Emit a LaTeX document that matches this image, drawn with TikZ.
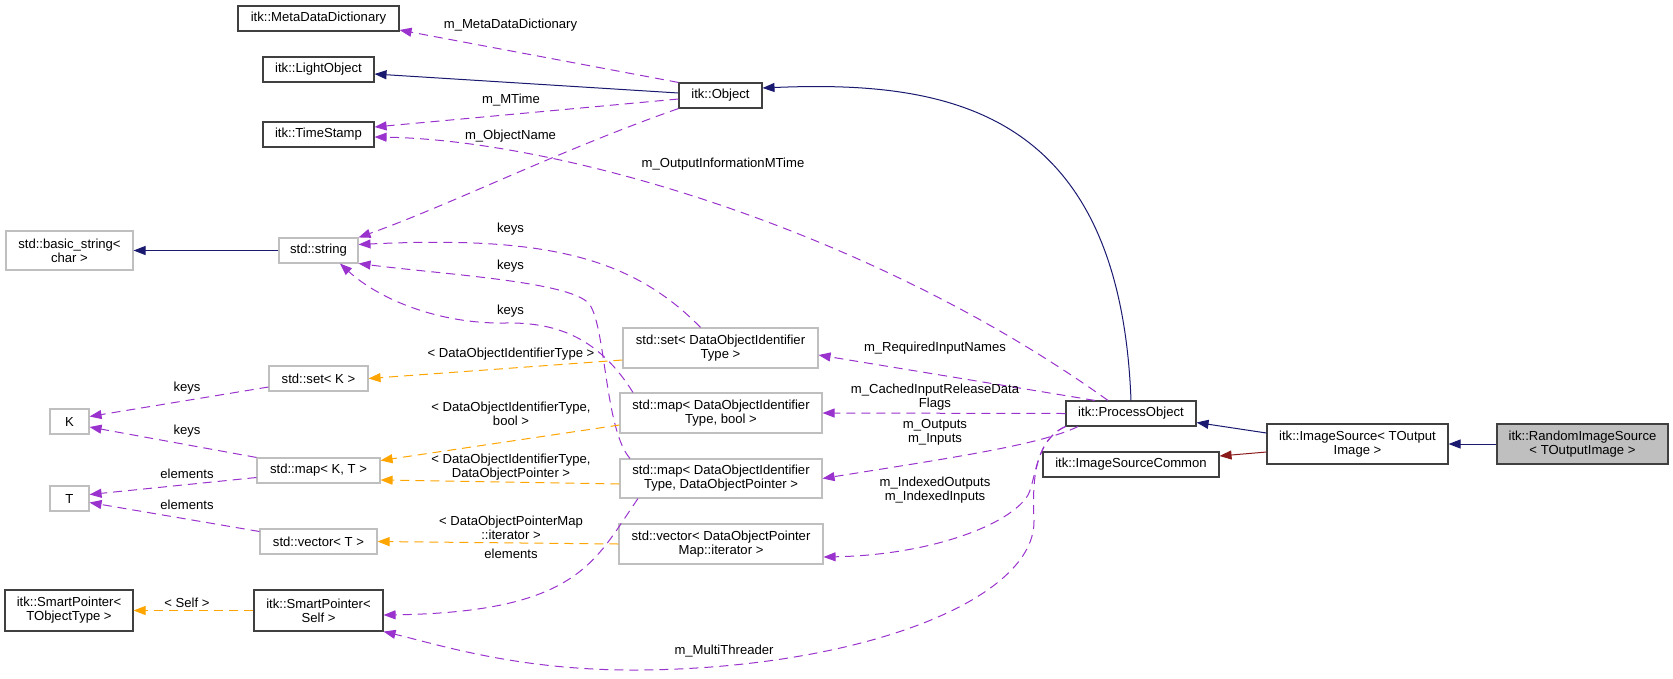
\documentclass[tikz,border=0pt]{standalone}
\usepackage{fontspec}
\setmainfont{Liberation Sans}
\usepackage{tikz}
\usetikzlibrary{arrows.meta}
\definecolor{edgeblue}{HTML}{191970}
\definecolor{edgepurple}{HTML}{9A32CD}
\definecolor{edgeorange}{HTML}{FFA500}
\definecolor{edgered}{HTML}{8B1A1A}
\definecolor{boxgray}{HTML}{BFBFBF}

\begin{document}
\begin{tikzpicture}[x=1pt, y=-1pt, >={Triangle[length=12pt,width=9pt]}, line width=1pt,
  cls/.style={draw=black!75, line width=1.1pt, fill=white, inner sep=0pt, align=center,
    font=\fontsize{13.1}{14}\selectfont},
  ext/.style={cls, draw=boxgray},
  lbl/.style={inner sep=0pt, align=center, font=\fontsize{13.1}{14}\selectfont},
  inhedge/.style={->, edgeblue},
  membedge/.style={->, edgepurple, dash pattern=on 9pt off 6pt},
  tmpledge/.style={->, edgeorange, dash pattern=on 9pt off 6pt}]
  \useasboundingbox (0,0) rectangle (1673,678);

  % Klassen
  \node[cls, minimum width=161pt, minimum height=25pt] (meta) at (318.5,18.5) {itk::MetaDataDictionary};
  \node[cls, minimum width=111pt, minimum height=25pt] (light) at (318.5,69.5) {itk::LightObject};
  \node[cls, minimum width=111pt, minimum height=25pt] (stamp) at (318.5,134.5) {itk::TimeStamp};
  \node[cls, minimum width=83pt, minimum height=25pt] (obj) at (720.5,95.5) {itk::Object};
  \node[ext, minimum width=127pt, minimum height=39pt] (bstr) at (69.5,250.5) {std::basic\_string<\\char >};
  \node[ext, minimum width=79pt, minimum height=25pt] (str) at (318.5,250.5) {std::string};
  \node[ext, minimum width=99pt, minimum height=25pt] (setK) at (318.5,378.5) {std::set< K >};
  \node[ext, minimum width=39pt, minimum height=25pt] (K) at (69.5,421.5) {K};
  \node[ext, minimum width=123pt, minimum height=25pt] (mapKT) at (318.5,470.5) {std::map< K, T >};
  \node[ext, minimum width=39pt, minimum height=25pt] (T) at (69.5,498.5) {T};
  \node[ext, minimum width=117pt, minimum height=25pt] (vecT) at (318.5,541.5) {std::vector< T >};
  \node[cls, minimum width=128pt, minimum height=41pt] (spT) at (69,610.5) {itk::SmartPointer<\\TObjectType >};
  \node[cls, minimum width=129pt, minimum height=41pt] (spS) at (318.5,610.5) {itk::SmartPointer<\\Self >};
  \node[ext, minimum width=195pt, minimum height=40pt] (setD) at (720.5,348) {std::set< DataObjectIdentifier\\Type >};
  \node[ext, minimum width=202pt, minimum height=40pt] (mapDB) at (721,413) {std::map< DataObjectIdentifier\\Type, bool >};
  \node[ext, minimum width=202pt, minimum height=39pt] (mapDP) at (721,478.5) {std::map< DataObjectIdentifier\\Type, DataObjectPointer >};
  \node[ext, minimum width=204pt, minimum height=40pt] (vecD) at (721,544) {std::vector< DataObjectPointer\\Map::iterator >};
  \node[cls, minimum width=130pt, minimum height=25pt] (proc) at (1131,413.5) {itk::ProcessObject};
  \node[cls, minimum width=176pt, minimum height=25pt] (isc) at (1131,464.5) {itk::ImageSourceCommon};
  \node[cls, minimum width=181pt, minimum height=40pt] (isrc) at (1357.5,444) {itk::ImageSource< TOutput\\Image >};
  \node[cls, fill=boxgray, minimum width=171pt, minimum height=40pt] (rnd) at (1582.5,444) {itk::RandomImageSource\\< TOutputImage >};

  % Vererbung
  \draw[inhedge] (rnd.west) -- (isrc.east);
  \draw[inhedge] ([yshift=11pt]isrc.west) -- ([yshift=-9pt]proc.east);
  \draw[inhedge, edgered] ([yshift=-8pt]isrc.west) -- ([yshift=8.5pt]isc.east);
  \draw[inhedge] (proc.north) .. controls (1120,110) and (950,80) .. ([yshift=7.5pt]obj.east);
  \draw[inhedge] ([yshift=2.5pt]obj.west) -- ([yshift=-4.5pt]light.east);
  \draw[inhedge] (str.west) -- (bstr.east);

  % Member
  \draw[membedge] (obj.north west) -- ([yshift=-11.5pt]meta.east);
  \draw[membedge] ([yshift=-3.5pt]obj.west) -- ([yshift=7.5pt]stamp.east);
  \draw[membedge] (obj.south west) .. controls (560,150) and (450,205) .. (str.north east);
  \draw[membedge] ([xshift=-23pt]proc.north) .. controls (870,230) and (560,140) .. ([yshift=-2.5pt]stamp.east);
  \draw[membedge] ([xshift=-20pt]setD.north) .. controls (630,255) and (540,236) .. ([yshift=6pt]str.east);
  \draw[membedge] ([xshift=-91pt]mapDP.north) .. controls (605,430) and (606,330) .. (590,305)
    .. controls (575,282) and (450,275) .. (str.south east);
  \draw[membedge] ([xshift=-88pt]mapDB.north) .. controls (600,340) and (560,322) .. (505,323)
    .. controls (440,324) and (380,300) .. ([xshift=21.5pt]str.south);
  \draw[membedge] ([xshift=-83pt]mapDP.south) .. controls (595,560) and (580,612) .. ([yshift=-4.5pt]spS.east);
  \draw[membedge] ([xshift=-36pt]proc.north) -- ([yshift=-7pt]setD.east);
  \draw[membedge] (proc.west) -- (mapDB.east);
  \draw[membedge] ([xshift=-53pt]proc.south) .. controls (1040,445) and (950,458) .. (mapDP.east);
  \draw[membedge] (proc.south west) .. controls (1035,440) and (1036,480) .. (1028,495)
    .. controls (1010,525) and (930,555) .. ([yshift=-13pt]vecD.east);
  \draw[membedge] (proc.south west) .. controls (1035,440) and (1032,480) .. (1034,520)
    .. controls (1036,600) and (860,668) .. (640,670)
    .. controls (520,671) and (440,645) .. (spS.south east);
  \draw[membedge] ([yshift=-8.5pt]setK.west) -- ([yshift=5pt]K.east);
  \draw[membedge] (mapKT.north west) -- ([yshift=-5.5pt]K.east);
  \draw[membedge] ([yshift=-7pt]mapKT.west) -- ([yshift=4pt]T.east);
  \draw[membedge] ([yshift=10pt]vecT.west) -- ([yshift=-4pt]T.east);

  % Templates
  \draw[tmpledge] ([yshift=-12pt]setD.west) -- (setK.east);
  \draw[tmpledge] ([yshift=-12pt]mapDB.west) -- ([yshift=10pt]mapKT.east);
  \draw[tmpledge] ([yshift=-5.5pt]mapDP.west) -- ([yshift=-9.5pt]mapKT.east);
  \draw[tmpledge] (vecD.west) -- (vecT.east);
  \draw[tmpledge] (spS.west) -- (spT.east);

  % Beschriftungen
  \node[lbl] (lMeta) at (510.5,25) {m\_MetaDataDictionary};
  \node[lbl] (lMTime) at (511,100) {m\_MTime};
  \node[lbl] (lName) at (510.5,136) {m\_ObjectName};
  \node[lbl] (lOutInfo) at (723,164) {m\_OutputInformationMTime};
  \node[lbl] (lKeysA) at (510.5,229) {keys};
  \node[lbl] (lKeysB) at (510.5,266) {keys};
  \node[lbl] (lKeysC) at (510.5,311) {keys};
  \node[lbl] (lSetD) at (511,354) {< DataObjectIdentifierType >};
  \node[lbl] (lMapDB) at (511,413.5) {< DataObjectIdentifierType,\\bool >};
  \node[lbl] (lMapDP) at (511,467) {< DataObjectIdentifierType,\\DataObjectPointer >};
  \node[lbl] (lVecD) at (511,527.5) {< DataObjectPointerMap\\::iterator >};
  \node[lbl] (lElemD) at (511,554) {elements};
  \node[lbl] (lReq) at (935,348) {m\_RequiredInputNames};
  \node[lbl] (lCached) at (935,397.5) {m\_CachedInputReleaseData\\Flags};
  \node[lbl] (lOut) at (935,432) {m\_Outputs\\m\_Inputs};
  \node[lbl] (lIdx) at (935,490.5) {m\_IndexedOutputs\\m\_IndexedInputs};
  \node[lbl] (lThread) at (724,651) {m\_MultiThreader};
  \node[lbl] (lKeysK1) at (187,388) {keys};
  \node[lbl] (lKeysK2) at (187,431) {keys};
  \node[lbl] (lElemT1) at (187,474) {elements};
  \node[lbl] (lElemT2) at (187,505) {elements};
  \node[lbl] (lSelf) at (187,603) {< Self >};
\end{tikzpicture}
\end{document}
